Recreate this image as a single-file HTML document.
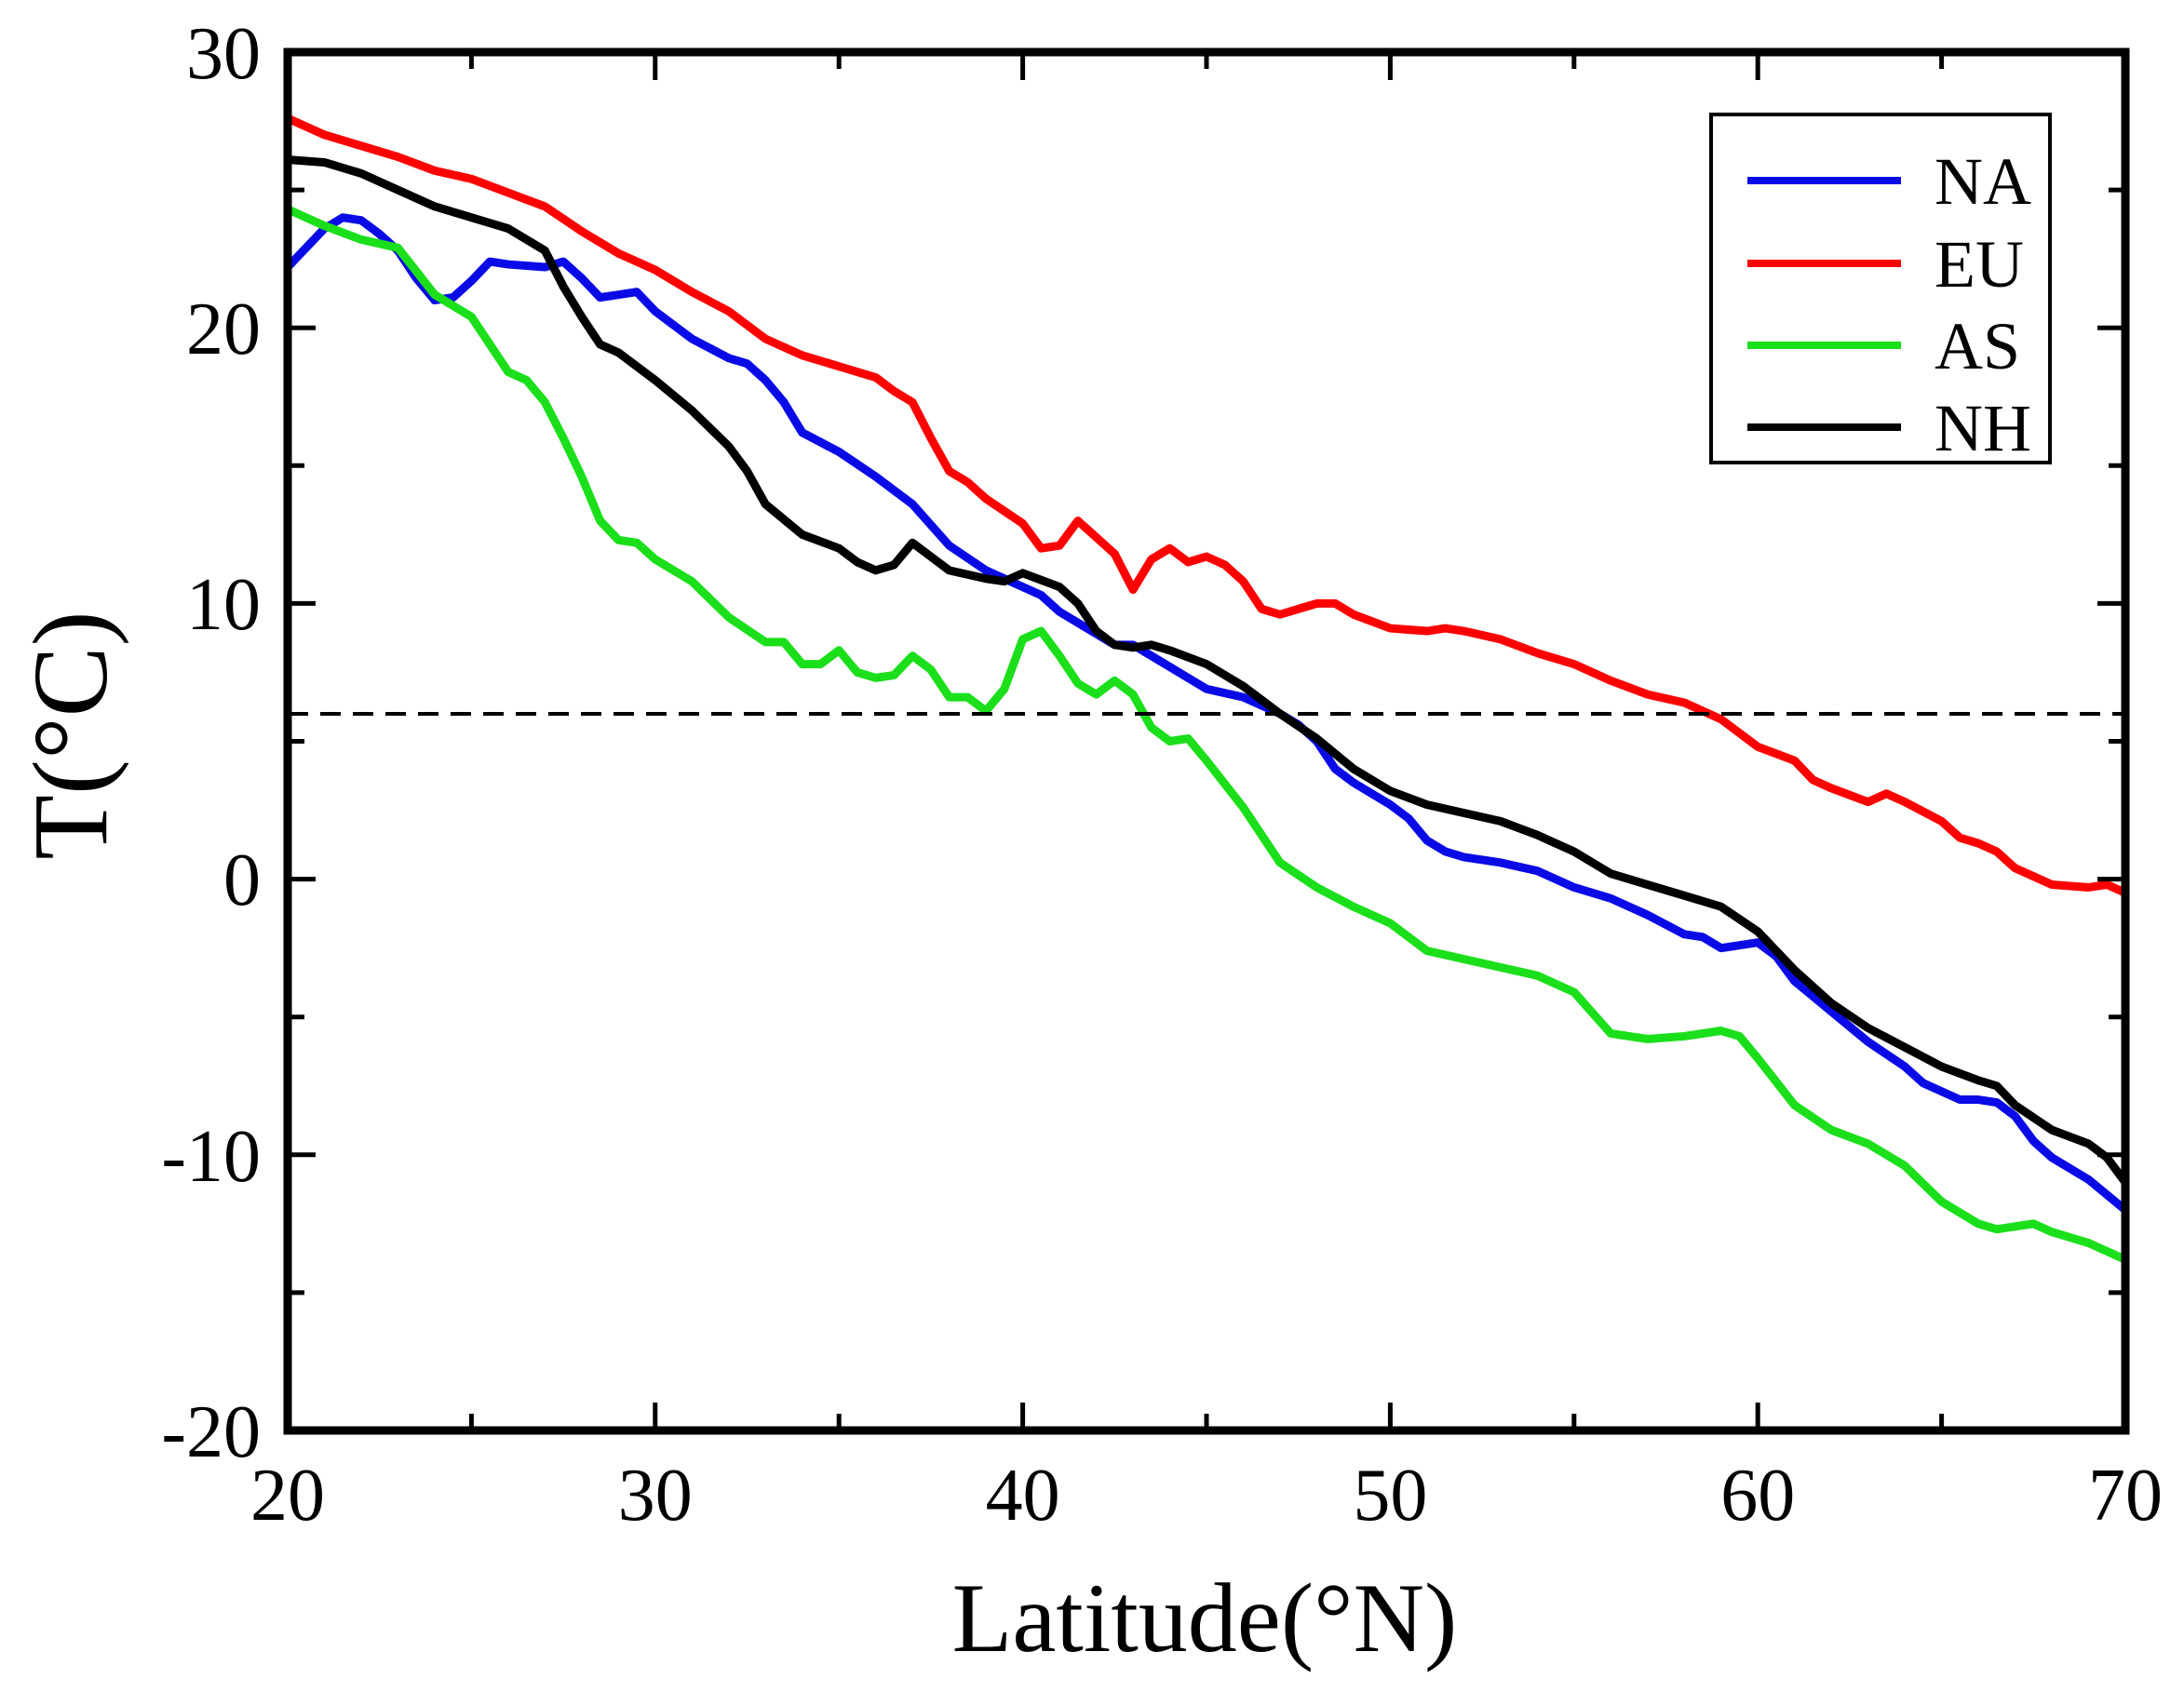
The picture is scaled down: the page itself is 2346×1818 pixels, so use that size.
<!DOCTYPE html>
<html><head><meta charset="utf-8"><style>html,body{margin:0;padding:0;background:#fff}svg{display:block}</style></head>
<body>
<svg width="2346" height="1818" viewBox="0 0 2346 1818" xmlns="http://www.w3.org/2000/svg" font-family="Liberation Serif, serif">
<rect width="2346" height="1818" fill="#fff"/>
<g transform="translate(309,944.6) scale(39.48,-29.62) translate(-20,0)" fill="none" stroke-linejoin="round">
<polyline vector-effect="non-scaling-stroke" stroke="#f00" stroke-width="9" points="20,27.6 21,27 22,26.6 23,26.2 24,25.7 25,25.4 26,24.9 27,24.4 28,23.5 29,22.7 30,22.1 31,21.3 32,20.6 33,19.6 34,19 35,18.6 36,18.2 36.5,17.7 37,17.3 37.5,16 38,14.8 38.5,14.4 39,13.8 40,12.9 40.5,12 41,12.1 41.5,13 42,12.4 42.5,11.8 43,10.5 43.5,11.6 44,12 44.5,11.5 45,11.7 45.5,11.4 46,10.8 46.5,9.8 47,9.6 47.5,9.8 48,10 48.5,10 49,9.6 50,9.1 51,9 51.5,9.1 52,9 53,8.7 54,8.2 55,7.8 56,7.2 57,6.7 58,6.4 59,5.8 60,4.8 61,4.3 61.5,3.6 62,3.3 63,2.8 63.5,3.1 64,2.8 65,2.1 65.5,1.5 66,1.3 66.5,1 67,0.4 68,-0.2 69,-0.3 69.5,-0.2 70,-0.5"/>
<polyline vector-effect="non-scaling-stroke" stroke="#0a0ae6" stroke-width="9" points="20,22.2 20.5,22.9 21,23.6 21.5,24 22,23.9 22.5,23.4 23,22.8 23.5,21.8 24,21 24.5,21.1 25,21.7 25.5,22.4 26,22.3 27,22.2 27.5,22.4 28,21.8 28.5,21.1 29,21.2 29.5,21.3 30,20.6 31,19.6 32,18.9 32.5,18.7 33,18.1 33.5,17.3 34,16.2 35,15.5 36,14.6 37,13.6 38,12.1 39,11.2 40,10.6 40.5,10.3 41,9.7 42,8.9 42.5,8.5 43,8.5 44,7.7 45,6.9 46,6.6 47,6 47.5,5.6 48,5 48.5,4 49,3.5 50,2.7 50.5,2.2 51,1.4 51.5,1 52,0.8 53,0.6 54,0.3 55,-0.3 56,-0.7 57,-1.3 58,-2 58.5,-2.1 59,-2.5 59.5,-2.4 60,-2.3 60.5,-2.8 61,-3.7 62,-4.8 63,-5.9 64,-6.8 64.5,-7.4 65,-7.7 65.5,-8 66,-8 66.5,-8.1 67,-8.6 67.5,-9.5 68,-10.1 69,-10.9 70,-12"/>
<polyline vector-effect="non-scaling-stroke" stroke="#1adf1a" stroke-width="9" points="20,24.3 21,23.7 22,23.2 23,22.9 24,21.2 25,20.4 25.5,19.4 26,18.4 26.5,18.1 27,17.3 27.5,16 28,14.6 28.5,13 29,12.3 29.5,12.2 30,11.6 31,10.8 32,9.5 33,8.6 33.5,8.6 34,7.8 34.5,7.8 35,8.3 35.5,7.5 36,7.3 36.5,7.4 37,8.1 37.5,7.6 38,6.6 38.5,6.6 39,6.1 39.5,6.9 40,8.7 40.5,9 41,8.1 41.5,7.1 42,6.7 42.5,7.2 43,6.7 43.5,5.5 44,5 44.5,5.1 45,4.3 46,2.6 47,0.6 48,-0.3 49,-1 50,-1.6 51,-2.6 52,-2.9 53,-3.2 54,-3.5 55,-4.1 56,-5.6 57,-5.8 58,-5.7 59,-5.5 59.5,-5.7 60,-6.5 61,-8.2 62,-9.1 63,-9.6 64,-10.4 65,-11.7 66,-12.5 66.5,-12.7 67,-12.6 67.5,-12.5 68,-12.8 69,-13.2 70,-13.8"/>
<polyline vector-effect="non-scaling-stroke" stroke="#000" stroke-width="9" points="20,26.1 21,26 22,25.6 23,25 24,24.4 25,24 26,23.6 27,22.8 27.5,21.5 28,20.4 28.5,19.4 29,19.1 30,18.1 31,17 32,15.7 32.5,14.8 33,13.6 34,12.5 35,12 35.5,11.5 36,11.2 36.5,11.4 37,12.2 37.5,11.7 38,11.2 39,10.9 39.5,10.8 40,11.1 41,10.6 41.5,10 42,9 42.5,8.5 43,8.4 43.5,8.5 44,8.3 45,7.8 46,7 47,6 48,5.1 49,4 50,3.2 51,2.7 52,2.4 53,2.1 54,1.6 55,1 56,0.2 57,-0.2 58,-0.6 59,-1 60,-1.9 61,-3.3 62,-4.5 63,-5.4 64,-6.1 65,-6.8 66,-7.3 66.5,-7.5 67,-8.2 68,-9.1 69,-9.6 69.5,-10.1 70,-11"/>
</g>
<line x1="309" y1="767" x2="2283" y2="767" stroke="#000" stroke-width="4" stroke-dasharray="22,13"/>
<g stroke="#000" stroke-width="5">
<path d="M309,1537v-30M703.8,1537v-30M1098.6,1537v-30M1493.4,1537v-30M1888.2,1537v-30M2283,1537v-30
M506.4,1537v-18M901.2,1537v-18M1296,1537v-18M1690.8,1537v-18M2085.6,1537v-18
M703.8,56v30M1098.6,56v30M1493.4,56v30M1888.2,56v30M506.4,56v18M901.2,56v18M1296,56v18M1690.8,56v18M2085.6,56v18"/>
<path d="M309,352.2h30M309,648.4h30M309,944.6h30M309,1240.8h30
M309,204.1h18M309,500.3h18M309,796.5h18M309,1092.7h18M309,1388.9h18
M2283,352.2h-30M2283,648.4h-30M2283,944.6h-30M2283,1240.8h-30
M2283,204.1h-18M2283,500.3h-18M2283,796.5h-18M2283,1092.7h-18M2283,1388.9h-18"/>
</g>
<rect x="309" y="56" width="1974" height="1481" fill="none" stroke="#000" stroke-width="9"/>
<g font-size="80" fill="#000" text-anchor="end">
<text x="280" y="84">30</text><text x="280" y="380">20</text><text x="280" y="676">10</text>
<text x="280" y="972">0</text><text x="280" y="1269">-10</text><text x="280" y="1565">-20</text>
</g>
<g font-size="80" fill="#000" text-anchor="middle">
<text x="309" y="1633">20</text><text x="703.8" y="1633">30</text><text x="1098.6" y="1633">40</text>
<text x="1493.4" y="1633">50</text><text x="1888.2" y="1633">60</text><text x="2283" y="1633">70</text>
</g>
<text x="1294" y="1774" font-size="106" text-anchor="middle">Latitude(°N)</text>
<text transform="translate(114,790) rotate(-90)" font-size="114" text-anchor="middle">T(°C)</text>
<rect x="1838" y="123" width="364" height="374" fill="#fff" stroke="#000" stroke-width="4"/>
<g stroke-width="8">
<line x1="1877" y1="194" x2="2042" y2="194" stroke="#0a0ae6"/>
<line x1="1877" y1="283" x2="2042" y2="283" stroke="#f00"/>
<line x1="1877" y1="371" x2="2042" y2="371" stroke="#1adf1a"/>
<line x1="1877" y1="459" x2="2042" y2="459" stroke="#000"/>
</g>
<g font-size="72" fill="#000">
<text x="2078" y="219">NA</text><text x="2078" y="308">EU</text><text x="2078" y="396">AS</text><text x="2078" y="484">NH</text>
</g>
</svg>
</body></html>
